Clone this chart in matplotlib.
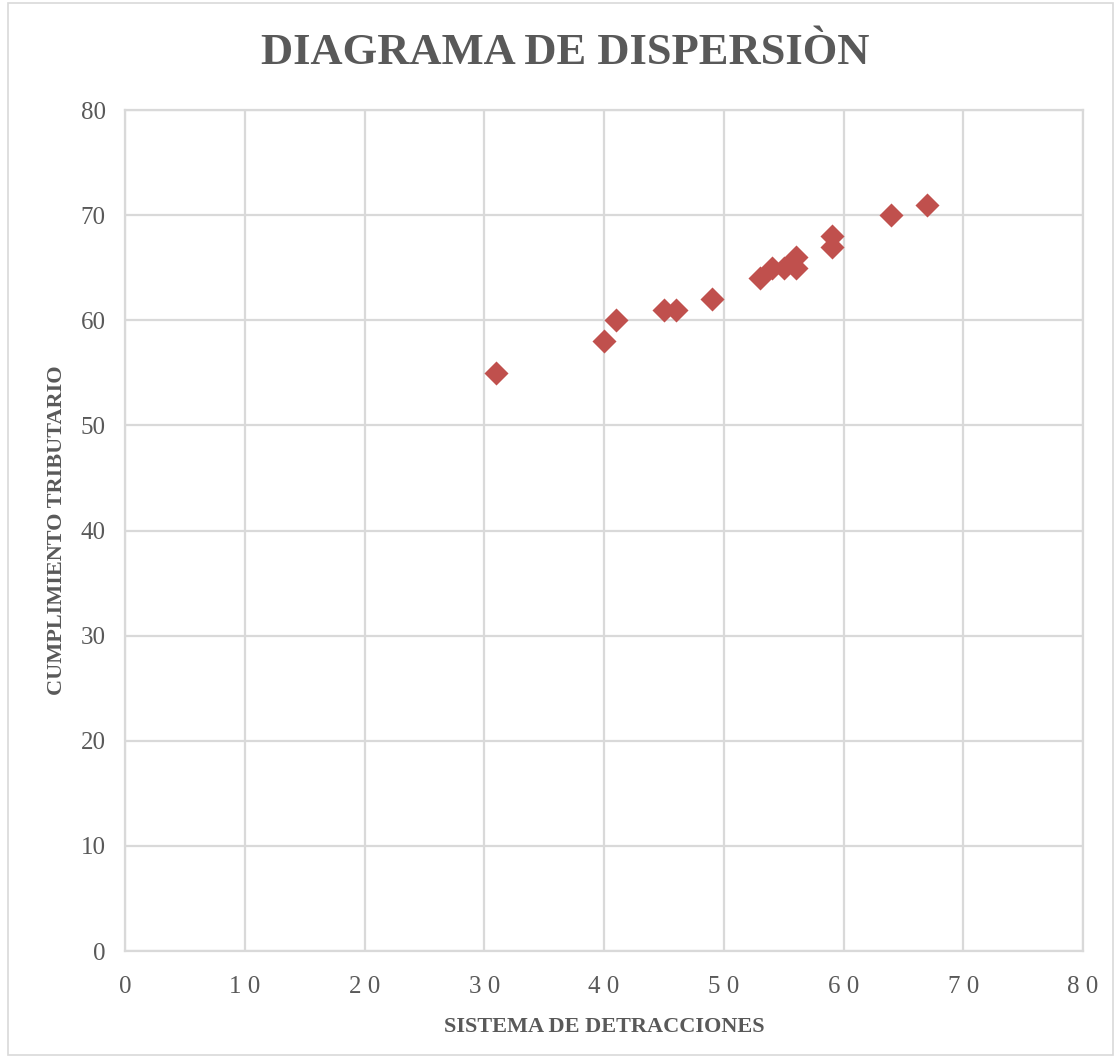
import matplotlib.pyplot as plt
from matplotlib.patches import Rectangle

# Sistema de detracciones vs. cumplimiento tributario
detracciones = [31, 40, 41, 45, 46, 49, 53, 54, 55, 56, 56, 59, 59, 64, 67]
cumplimiento = [55, 58, 60, 61, 61, 62, 64, 65, 65, 66, 65, 68, 67, 70, 71]

x_ticks = [0, 10, 20, 30, 40, 50, 60, 70, 80]
y_ticks = [0, 10, 20, 30, 40, 50, 60, 70, 80]

text_color = '#595959'
grid_color = '#d9d9d9'
serif = ['Liberation Serif', 'DejaVu Serif']

fig = plt.figure(figsize=(11.2, 10.58), dpi=100)
ax = fig.add_axes([0.1116, 0.1011, 0.8554, 0.7949])

ax.scatter(detracciones, cumplimiento, marker='D', s=150, color='#c0504d',
           linewidths=0, zorder=3)

ax.set_xlim(0, 80)
ax.set_ylim(0, 80)
ax.set_xticks(x_ticks)
ax.set_yticks(y_ticks)
ax.set_xticklabels([' '.join(str(t)) for t in x_ticks], family=serif,
                   fontsize=18, color=text_color)
ax.set_yticklabels([str(t) for t in y_ticks], family=serif,
                   fontsize=18, color=text_color)
ax.tick_params(axis='x', length=0, pad=18)
ax.tick_params(axis='y', length=0, pad=14)
ax.grid(True, color=grid_color, linewidth=1.6)
ax.set_axisbelow(True)
for sp in ax.spines.values():
    sp.set_color(grid_color)
    sp.set_linewidth(1.6)

ax.set_xlabel('SISTEMA DE DETRACCIONES', family=serif, fontsize=16,
              fontweight='bold', color=text_color, labelpad=14)
ax.set_ylabel('CUMPLIMIENTO TRIBUTARIO', family=serif, fontsize=16,
              fontweight='bold', color=text_color, labelpad=10)

fig.text(0.505, 0.950, 'DIAGRAMA DE DISPERSIÒN',
         family=serif, fontsize=32, fontweight='bold', color=text_color,
         ha='center', va='center')

# chart area border
fig.patches.append(Rectangle((0.007, 0.003), 0.987, 0.994, transform=fig.transFigure,
                             fill=False, edgecolor=grid_color, linewidth=1.2))

fig.savefig('out.png', dpi=100)
